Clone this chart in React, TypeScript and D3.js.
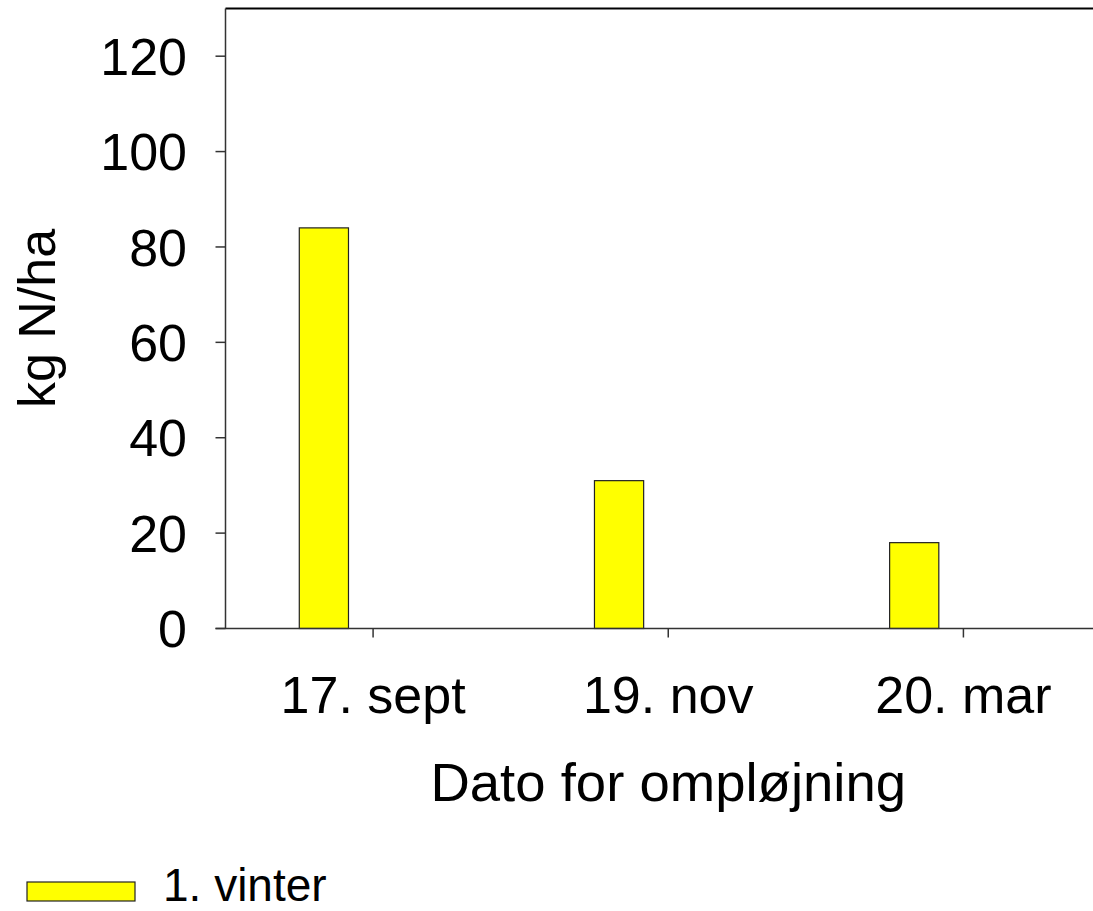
import React from "react";
import * as d3 from "d3";

const categories = ["17. sept", "19. nov", "20. mar"];
const seriesName = "1. vinter";
const values = [84, 31, 18];
const yTicks = [0, 20, 40, 60, 80, 100, 120];
const yMax = 130;
const xTitle = "Dato for ompløjning";
const yTitle = "kg N/ha";

const W = 1093;
const H = 911;
const left = 225.5;
const top = 8.5;
const bottom = 628.5;
const bandRight = 1111;
const FONT = "'Liberation Sans', Arial, sans-serif";

export default function App() {
  const y = d3.scaleLinear().domain([0, yMax]).range([bottom, top]);
  const x = d3.scaleBand<string>().domain(categories).range([left, bandRight]).padding(0);
  const bw = x.bandwidth();
  const x1 = d3.scaleBand<string>().domain([seriesName]).range([bw * 0.25, bw * 0.25 + bw / 6]);

  return (
    <svg width={W} height={H} style={{ position: "absolute", left: 0, top: 0, background: "#fff" }} fontFamily={FONT}>
      {/* bars */}
      {categories.map((c, i) => (
        <rect
          key={c}
          x={(x(c) as number) + (x1(seriesName) as number)}
          y={y(values[i])}
          width={x1.bandwidth()}
          height={y(0) - y(values[i])}
          fill="#ffff00"
          stroke="#222"
          strokeWidth={1.2}
        />
      ))}
      {/* frame */}
      <line x1={left} x2={W} y1={top} y2={top} stroke="#000" strokeWidth={2} />
      <line x1={left} x2={left} y1={top} y2={bottom} stroke="#333" strokeWidth={1.5} />
      <line x1={left - 10} x2={W} y1={bottom} y2={bottom} stroke="#333" strokeWidth={1.5} />
      {/* y ticks */}
      {yTicks.map((t) => (
        <g key={t}>
          <line x1={left - 10} x2={left} y1={y(t)} y2={y(t)} stroke="#333" strokeWidth={1.5} />
          <text x={187} y={y(t)} dy="0.36em" textAnchor="end" fontSize={52} fill="#000">
            {t}
          </text>
        </g>
      ))}
      {/* x ticks */}
      {categories.map((c) => {
        const cx = (x(c) as number) + bw / 2;
        return (
          <g key={c}>
            <line x1={cx} x2={cx} y1={bottom} y2={bottom + 9} stroke="#333" strokeWidth={1.5} />
            <text x={cx} y={713} textAnchor="middle" fontSize={52} fill="#000">
              {c}
            </text>
          </g>
        );
      })}
      <text x={(x(categories[1]) as number) + bw / 2} y={801} textAnchor="middle" fontSize={54.5} fill="#000">
        {xTitle}
      </text>
      <text
        transform={`translate(55, ${(top + bottom) / 2}) rotate(-90)`}
        textAnchor="middle"
        fontSize={52}
        fill="#000"
      >
        {yTitle}
      </text>
      {/* legend */}
      <rect x={27} y={882} width={108} height={19} fill="#ffff00" stroke="#222" strokeWidth={1.2} />
      <text x={163} y={901} fontSize={46} fill="#000">
        {seriesName}
      </text>
    </svg>
  );
}
